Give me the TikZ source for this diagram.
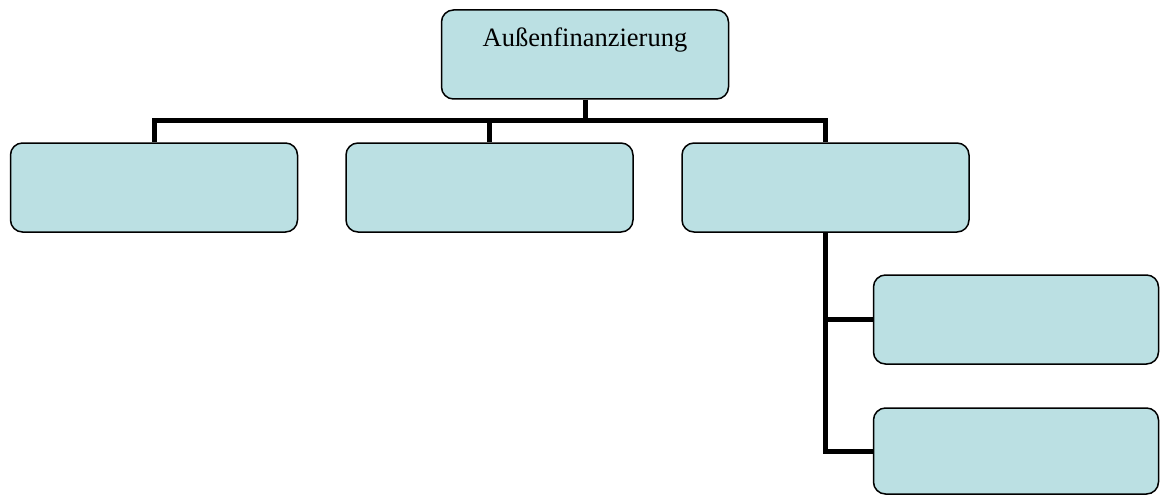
\documentclass[tikz,border=0pt]{standalone}
\usepackage{fontspec}
\setmainfont{Liberation Serif}
\definecolor{boxfill}{HTML}{BBE0E3}
\begin{document}
\begin{tikzpicture}[x=1pt,y=-1pt,
  orgbox/.style={draw=black, line width=1.5pt, fill=boxfill, rounded corners=12pt,
    rectangle, inner sep=0pt, minimum width=287pt, minimum height=89pt},
  conn/.style={draw=black, line width=5pt, line join=miter}]
\useasboundingbox (0,0) rectangle (1160,495);
% boxes
\node[orgbox] (top) at (585,54.5) {};
\node[anchor=base, font=\fontsize{26.5}{30}\selectfont] (toplbl) at ([yshift=-37pt]top.north) {Außenfinanzierung};
\node[orgbox] (b1) at (154,187.5) {};
\node[orgbox] (b2) at (489.5,187.5) {};
\node[orgbox] (b3) at (825.5,187.5) {};
\node[orgbox, minimum width=285pt] (b4) at (1016,319.5) {};
\node[orgbox, minimum width=285pt, minimum height=86pt] (b5) at (1016,451) {};
% connectors
\coordinate (bar) at (585,120);
\draw[conn] (top.south) -- (bar);
\draw[conn] (b1.north) |- (bar) -| (b3.north);
\draw[conn] (b2.north) -- (b2.north |- bar);
\draw[conn] (b3.south) |- (b5.west);
\draw[conn] (b3.south |- b4.west) -- (b4.west);
\end{tikzpicture}
\end{document}
